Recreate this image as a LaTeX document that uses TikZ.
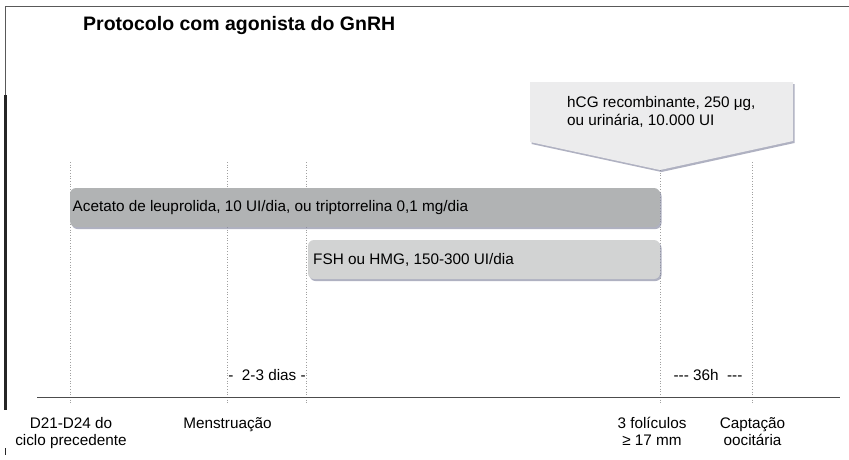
\documentclass[tikz,border=0pt]{standalone}
\usepackage{fontspec}
\setmainfont{Liberation Sans}
\usetikzlibrary{shadows}
\definecolor{barA}{HTML}{B1B3B4}
\definecolor{barB}{HTML}{D2D3D3}
\definecolor{callfill}{HTML}{ECECED}
\definecolor{shcol}{HTML}{7A7D98}
\definecolor{vlinecol}{HTML}{A0A0A0}
\begin{document}
\begin{tikzpicture}[x=1pt,y=-1pt,
  every node/.style={font=\fontsize{15.3}{17}\selectfont},
  vline/.style={draw=vlinecol, dotted, line width=0.7pt},
  bar/.style={rounded corners=6pt, inner sep=0pt, draw=none,
    drop shadow={shadow xshift=1.5pt, shadow yshift=-2pt, fill=shcol, opacity=0.6}},
  bartext/.style={anchor=west, inner sep=0pt},
  lbl/.style={align=center, inner sep=0pt, font=\fontsize{15.3}{17}\selectfont}]
\useasboundingbox (0,0) rectangle (849,459);
% frame
\draw[gray!70!black, line width=1.1pt] (5.5,95) -- (5.5,6.5) -- (849,6.5);
\draw[black!85, line width=2.2pt] (5.5,95) -- (5.5,410);
\draw[black!85, line width=1.2pt] (5.5,448) -- (5.5,455);
% title
\node[font=\fontsize{19.5}{22}\selectfont\bfseries, anchor=west, inner sep=0pt] (title) at (83,25) {Protocolo com agonista do GnRH};
% timeline coordinates
\foreach \n/\x in {a/70, b/227.5, c/306, d/660, e/752}{
  \coordinate (t\n) at (\x,162);
  \coordinate (b\n) at (\x,403);
}
\coordinate (td) at (660,170);
\foreach \n in {a,b,c,d,e}{ \draw[vline] (t\n) -- (b\n); }
% axis
\coordinate (axL) at (37,397.5);
\coordinate (axR) at (840,397.5);
\draw[gray!60!black, line width=0.9pt] (axL) -- (axR);
% bars
\path[bar, fill=barA] (70,188) rectangle (660,227);
\node[bartext] (barAtext) at (72.5,208) {Acetato de leuprolida, 10 UI/dia, ou triptorrelina 0,1 mg/dia};
\path[bar, fill=barB] (308,240) rectangle (660,279);
\node[bartext] (barBtext) at (313,260) {FSH ou HMG, 150-300 UI/dia};
% callout
\path[fill=callfill, drop shadow={shadow xshift=1.5pt, shadow yshift=-2pt, fill=shcol, opacity=0.6}]
  (530,82) -- (793,82) -- (793,141) -- (td) -- (530,142) -- cycle;
\node[anchor=north west, align=left, inner sep=0pt, font=\fontsize{15.3}{18}\selectfont] (hcg) at (567,96)
  {hCG recombinante, 250 μg,\\ou urinária, 10.000 UI};
% interval labels
\node[lbl] (dias) at (267,375) {-\ \ 2-3 dias -};
\node[lbl] (h36) at (708,375) {-{}-{}- 36h\ \ -{}-{}-};
% bottom labels
\node[lbl, anchor=north] (la) at (71,417) {D21-D24 do\\ciclo precedente};
\node[lbl, anchor=north] (lb) at (227.5,417) {Menstruação};
\node[lbl, anchor=north] (ld) at (652,417) {3 folículos\\≥ 17 mm};
\node[lbl, anchor=north] (le) at (752.5,417) {Captação\\oocitária};
\end{tikzpicture}
\end{document}
